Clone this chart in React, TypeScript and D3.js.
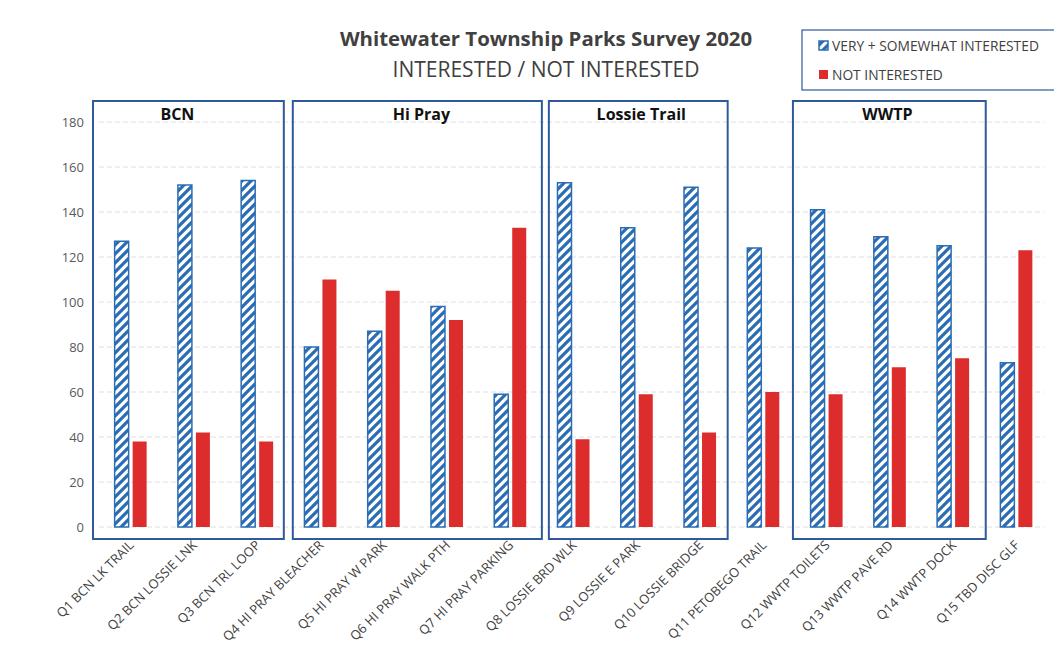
import React, { useRef, useEffect } from 'react';
import * as d3 from 'd3';

const categories = [
  'Q1 BCN LK TRAIL', 'Q2 BCN LOSSIE LNK', 'Q3 BCN TRL LOOP', 'Q4 HI PRAY BLEACHER',
  'Q5 HI PRAY W PARK', 'Q6 HI PRAY WALK PTH', 'Q7 HI PRAY PARKING', 'Q8 LOSSIE BRD WLK',
  'Q9 LOSSIE E PARK', 'Q10 LOSSIE BRIDGE', 'Q11 PETOBEGO TRAIL', 'Q12 WWTP TOILETS',
  'Q13 WWTP PAVE RD', 'Q14 WWTP DOCK', 'Q15 TBD DISC GLF',
];
const interested = [127, 152, 154, 80, 87, 98, 59, 153, 133, 151, 124, 141, 129, 125, 73];
const notInterested = [38, 42, 38, 110, 105, 92, 133, 39, 59, 42, 60, 59, 71, 75, 123];
const yTicks = [0, 20, 40, 60, 80, 100, 120, 140, 160, 180];
const groupNames = ['BCN', 'Hi Pray', 'Lossie Trail', 'WWTP'];
const groupFirst = [0, 3, 7, 11];
const groupLast = [2, 6, 9, 13];
const seriesNames = ['VERY + SOMEWHAT INTERESTED', 'NOT INTERESTED'];

const BLUE = '#2a6db5';
const RED = '#dd2c2c';
const BOX = '#2e5a9c';
const FONT = '"Open Sans", "Noto Sans", sans-serif';

// hand-drawn box offsets (px) relative to band edges
const boxInsetL = [-6, 4, 7, -2];
const boxInsetR = [-5, 0, -4, 1];
const labelShift = [-11, 4, 3, -2];

const App: React.FC = () => {
  const ref = useRef<SVGSVGElement>(null);

  useEffect(() => {
    if (!ref.current) return;
    const svg = d3.select(ref.current);
    svg.selectAll('*').remove();

    const W = 1054, H = 661;
    const left = 99, right = 1048, top = 122, bottom = 527;

    const defs = svg.append('defs');
    const pat = defs.append('pattern')
      .attr('id', 'hatch')
      .attr('patternUnits', 'userSpaceOnUse')
      .attr('width', 9)
      .attr('height', 9);
    pat.append('rect').attr('width', 9).attr('height', 9).attr('fill', '#fff');
    pat.append('path')
      .attr('d', 'M-2,11 L11,-2 M-2,2 L2,-2 M7,11 L11,7')
      .attr('stroke', BLUE)
      .attr('stroke-width', 3.2);

    svg.append('rect').attr('width', W).attr('height', H).attr('fill', '#fff');

    const x = d3.scaleBand<string>().domain(categories).range([left, right]);
    const y = d3.scaleLinear().domain([0, 180]).range([bottom, top]);

    // gridlines
    svg.append('g')
      .selectAll('line')
      .data(yTicks)
      .enter()
      .append('line')
      .attr('x1', left)
      .attr('x2', right - 4)
      .attr('y1', d => y(d))
      .attr('y2', d => y(d))
      .attr('stroke', '#dedede')
      .attr('stroke-width', 1)
      .attr('stroke-dasharray', '5,3');

    // y tick labels
    svg.append('g')
      .selectAll('text')
      .data(yTicks)
      .enter()
      .append('text')
      .attr('x', 84)
      .attr('y', d => y(d))
      .attr('dy', '0.35em')
      .attr('text-anchor', 'end')
      .attr('font-family', FONT)
      .attr('font-size', 13)
      .attr('fill', '#595959')
      .text(d => d);

    const bw = 14, gap = 4;
    const cx = (c: string) => (x(c) || 0) + x.bandwidth() / 2;

    // group boxes
    const boxes = svg.append('g');
    groupNames.forEach((name, i) => {
      const x0 = (x(categories[groupFirst[i]]) || 0) + boxInsetL[i];
      const x1 = (x(categories[groupLast[i]]) || 0) + x.bandwidth() + boxInsetR[i];
      boxes.append('rect')
        .attr('x', x0)
        .attr('y', 101)
        .attr('width', x1 - x0)
        .attr('height', 438)
        .attr('fill', 'none')
        .attr('stroke', BOX)
        .attr('stroke-width', 2);
      boxes.append('text')
        .attr('x', (x0 + x1) / 2 + labelShift[i])
        .attr('y', 120)
        .attr('text-anchor', 'middle')
        .attr('font-family', FONT)
        .attr('font-weight', 'bold')
        .attr('font-size', 16)
        .attr('fill', '#111')
        .text(name);
    });

    // bars
    svg.append('g')
      .selectAll('rect')
      .data(interested)
      .enter()
      .append('rect')
      .attr('x', (d, i) => cx(categories[i]) - gap / 2 - bw)
      .attr('y', d => y(d))
      .attr('width', bw)
      .attr('height', d => y(0) - y(d))
      .attr('fill', 'url(#hatch)')
      .attr('stroke', BLUE)
      .attr('stroke-width', 1.5);

    svg.append('g')
      .selectAll('rect')
      .data(notInterested)
      .enter()
      .append('rect')
      .attr('x', (d, i) => cx(categories[i]) + gap / 2)
      .attr('y', d => y(d))
      .attr('width', bw)
      .attr('height', d => y(0) - y(d))
      .attr('fill', RED);

    // x labels
    svg.append('g')
      .selectAll('text')
      .data(categories)
      .enter()
      .append('text')
      .attr('transform', d => `translate(${cx(d) + 4},${546}) rotate(-45)`)
      .attr('text-anchor', 'end')
      .attr('font-family', FONT)
      .attr('font-size', 13)
      .attr('fill', '#404040')
      .text(d => d);

    // title
    svg.append('text')
      .attr('x', 546)
      .attr('y', 46)
      .attr('text-anchor', 'middle')
      .attr('font-family', FONT)
      .attr('font-weight', 'bold')
      .attr('font-size', 20.4)
      .attr('fill', '#404040')
      .text('Whitewater Township Parks Survey 2020');
    svg.append('text')
      .attr('x', 546)
      .attr('y', 77)
      .attr('text-anchor', 'middle')
      .attr('font-family', FONT)
      .attr('font-size', 21)
      .attr('fill', '#404040')
      .text('INTERESTED / NOT INTERESTED');

    // legend
    const lg = svg.append('g');
    lg.append('rect')
      .attr('x', 802)
      .attr('y', 30)
      .attr('width', 262)
      .attr('height', 60)
      .attr('fill', '#fff')
      .attr('stroke', BOX)
      .attr('stroke-width', 1.2);
    seriesNames.forEach((name, i) => {
      const ly = 46 + i * 29;
      lg.append('rect')
        .attr('x', 819)
        .attr('y', ly - 5)
        .attr('width', 9)
        .attr('height', 9)
        .attr('fill', i === 0 ? 'url(#hatch)' : RED)
        .attr('stroke', i === 0 ? BLUE : 'none')
        .attr('stroke-width', 1.5);
      lg.append('text')
        .attr('x', 832)
        .attr('y', ly)
        .attr('dy', '0.35em')
        .attr('font-family', FONT)
        .attr('font-size', 13.8)
        .attr('fill', '#404040')
        .text(name);
    });
  }, []);

  return (
    <svg
      ref={ref}
      width={1054}
      height={661}
      style={{ position: 'absolute', left: 0, top: 0, display: 'block' }}
    />
  );
};

export default App;
